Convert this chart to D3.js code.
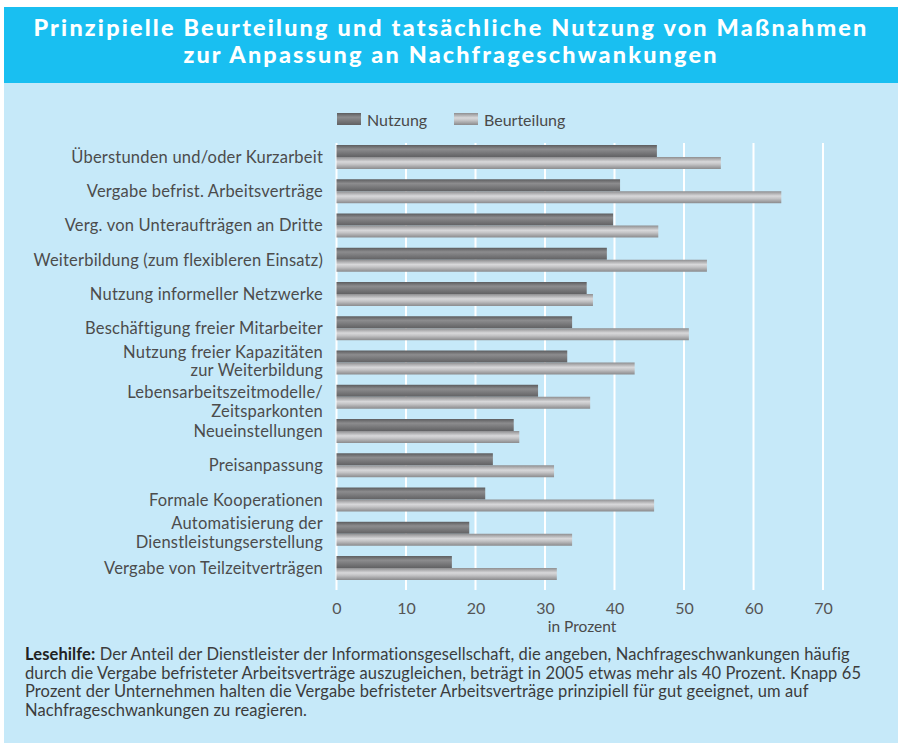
<!DOCTYPE html>
<html>
<head>
<meta charset="utf-8">
<script src="https://cdn.jsdelivr.net/npm/d3@7"></script>
<style>
	body { margin: 0; background: #ffffff; }
	svg { display: block; font-family: Lato, "Open Sans", sans-serif; }
</style>
</head>
<body>
<svg width="898" height="747"></svg>
<script>
var titleLines = ['Prinzipielle Beurteilung und tatsächliche Nutzung von Maßnahmen', 'zur Anpassung an Nachfrageschwankungen'];

var categories = [
	'Überstunden und/oder Kurzarbeit',
	'Vergabe befrist. Arbeitsverträge',
	'Verg. von Unteraufträgen an Dritte',
	'Weiterbildung (zum flexibleren Einsatz)',
	'Nutzung informeller Netzwerke',
	'Beschäftigung freier Mitarbeiter',
	'Nutzung freier Kapazitäten\nzur Weiterbildung',
	'Lebensarbeitszeitmodelle/\nZeitsparkonten',
	'Neueinstellungen',
	'Preisanpassung',
	'Formale Kooperationen',
	'Automatisierung der\nDienstleistungserstellung',
	'Vergabe von Teilzeitverträgen'
];

var series = ['Nutzung', 'Beurteilung'];
var nutzung = [46.1, 40.8, 39.8, 38.9, 36.0, 33.9, 33.2, 29.0, 25.5, 22.5, 21.4, 19.1, 16.6];
var beurteilung = [55.3, 64.0, 46.3, 53.3, 36.9, 50.7, 42.9, 36.5, 26.3, 31.3, 45.7, 33.9, 31.7];
var ticks = [0, 10, 20, 30, 40, 50, 60, 70];
var axisTitle = 'in Prozent';

var noteLead = 'Lesehilfe:';
var noteLines = [
	' Der Anteil der Dienstleister der Informationsgesellschaft, die angeben, Nachfrageschwankungen häufig',
	'durch die Vergabe befristeter Arbeitsverträge auszugleichen, beträgt in 2005 etwas mehr als 40 Prozent. Knapp 65',
	'Prozent der Unternehmen halten die Vergabe befristeter Arbeitsverträge prinzipiell für gut geeignet, um auf',
	'Nachfrageschwankungen zu reagieren.'
];

var svg = d3.select('svg');

//gradients for the bars
var defs = svg.append('defs');
var grads = {
	Nutzung: [[0, '#5c5c5e'], [0.35, '#8c8c8e'], [0.55, '#7f7f81'], [1, '#616163']],
	Beurteilung: [[0, '#8e8e90'], [0.4, '#d8d8da'], [0.6, '#c4c4c6'], [1, '#8a8a8c']]
};
series.forEach(function(s){
	var g = defs.append('linearGradient')
		.attr('id', 'grad-' + s)
		.attr('x1', 0).attr('y1', 0).attr('x2', 0).attr('y2', 1);
	grads[s].forEach(function(st){
		g.append('stop').attr('offset', st[0]).attr('stop-color', st[1]);
	});
});

//panels
svg.append('rect').attr('x', 4).attr('y', 83).attr('width', 894).attr('height', 660).attr('fill', '#c6e9f9');
svg.append('rect').attr('x', 4).attr('y', 7).attr('width', 894).attr('height', 76).attr('fill', '#19bff1');

//title, stretched a bit with letter spacing to the width of the original
var titleWidth = [835, 535];
svg.selectAll('text.title')
	.data(titleLines)
	.enter()
	.append('text')
	.attr('class', 'title')
	.attr('x', 451)
	.attr('y', function(d, i){ return 36 + i * 27; })
	.attr('text-anchor', 'middle')
	.attr('fill', '#ffffff')
	.attr('font-weight', 900)
	.attr('font-size', 23.4)
	.text(function(d){ return d; })
	.each(function(d, i){
		var len = this.getComputedTextLength();
		d3.select(this).attr('letter-spacing', ((titleWidth[i] - len) / d.length).toFixed(2));
	});

//scales
var x = d3.scaleLinear().domain([0, 70]).range([336.5, 823]);
var y = d3.scaleBand().domain(d3.range(categories.length)).range([145, 580]).paddingInner(0.3).paddingOuter(0);
var ySub = d3.scaleBand().domain(series).range([0, y.bandwidth()]);

var rows = categories.map(function(c, i){
	return { label: c, Nutzung: nutzung[i], Beurteilung: beurteilung[i] };
});

//grid lines
svg.append('g')
	.selectAll('line')
	.data(ticks)
	.enter()
	.append('line')
	.attr('x1', x).attr('x2', x)
	.attr('y1', 143).attr('y2', 590)
	.attr('stroke', '#ffffff')
	.attr('stroke-width', 2);

//bars
var row = svg.append('g')
	.selectAll('g')
	.data(rows)
	.enter()
	.append('g')
	.attr('transform', function(d, i){ return 'translate(0,' + y(i) + ')'; });

row.selectAll('rect')
	.data(function(d){ return series.map(function(s){ return { key: s, value: d[s] }; }); })
	.enter()
	.append('rect')
	.attr('x', x(0))
	.attr('y', function(d){ return ySub(d.key); })
	.attr('width', function(d){ return x(d.value) - x(0); })
	.attr('height', ySub.bandwidth())
	.attr('fill', function(d){ return 'url(#grad-' + d.key + ')'; });

//category labels
var nudge = { 7: 6 };
row.each(function(d, i){
	var lines = d.label.split('\n');
	var t = d3.select(this).append('text')
		.attr('text-anchor', 'end')
		.attr('font-size', 16.5)
		.attr('letter-spacing', 0.2)
		.attr('fill', '#4c4c4c');
	var mid = y.bandwidth() / 2 + (nudge[i] || 0);
	lines.forEach(function(l, k){
		var base = lines.length == 1 ? mid + 6 : mid - 5 + k * 19;
		t.append('tspan').attr('x', 323).attr('y', base).text(l);
	});
});

//x axis labels
var axis = svg.append('g')
	.attr('transform', 'translate(0,598)')
	.call(d3.axisBottom(x).tickValues(ticks).tickSize(0).tickPadding(0).tickFormat(d3.format('d')));
axis.select('.domain').remove();
axis.selectAll('text')
	.attr('dy', '1em')
	.attr('font-size', 16)
	.attr('font-family', 'Lato, sans-serif')
	.attr('fill', '#555555');

svg.append('text')
	.attr('x', 582)
	.attr('y', 632)
	.attr('text-anchor', 'middle')
	.attr('font-size', 15.5)
	.attr('fill', '#4a4a4a')
	.text(axisTitle);

//legend
var legend = svg.append('g')
	.selectAll('g')
	.data(series)
	.enter()
	.append('g')
	.attr('transform', function(d, i){ return 'translate(' + (337 + i * 117) + ',113)'; });
legend.append('rect')
	.attr('width', 24)
	.attr('height', 12)
	.attr('fill', function(d){ return 'url(#grad-' + d + ')'; });
legend.append('text')
	.attr('x', 30)
	.attr('y', 13)
	.attr('font-size', 16)
	.attr('fill', '#4a4a4a')
	.text(function(d){ return d; });

//reading help
var note = svg.append('g').attr('font-size', 16.5).attr('letter-spacing', 0.1).attr('fill', '#3c3c3c');
noteLines.forEach(function(l, i){
	var t = note.append('text').attr('x', 25).attr('y', 660 + i * 18.5);
	if(i == 0){
		t.append('tspan').attr('font-weight', 'bold').attr('fill', '#222222').text(noteLead);
	}
	t.append('tspan').text(l);
});
</script>
</body>
</html>
